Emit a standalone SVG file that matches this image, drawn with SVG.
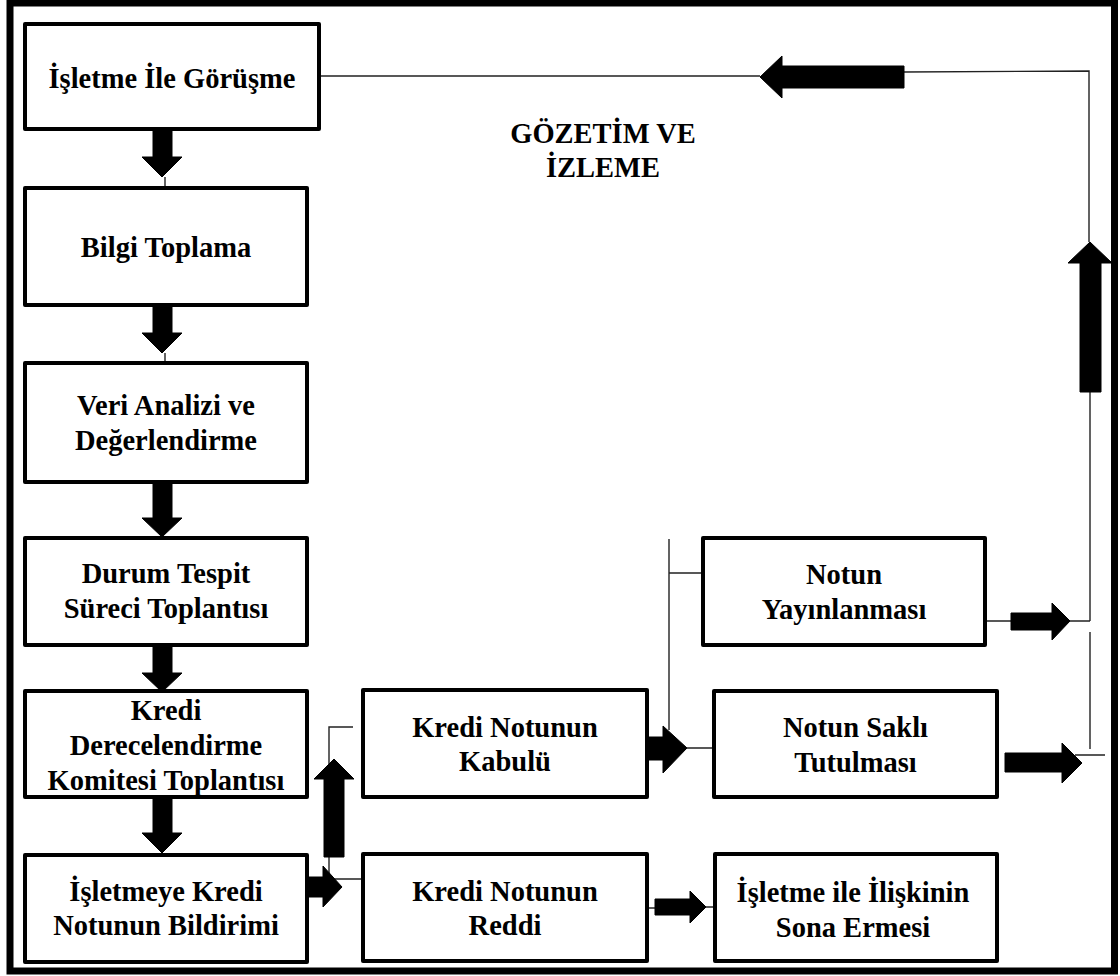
<svg xmlns="http://www.w3.org/2000/svg" width="1120" height="976" viewBox="0 0 1120 976">
<style>
.box{fill:#fff;stroke:#000;stroke-width:4;stroke-linejoin:round}
.t{font-family:"Liberation Serif","Times New Roman",serif;font-weight:bold;font-size:28.5px;fill:#000;text-anchor:middle}
.thin{fill:none;stroke:#222;stroke-width:1.4}
.blk{fill:#000;stroke:#000;stroke-width:1;stroke-linejoin:round}
</style>
<rect width="1120" height="976" fill="#fff"/>
<rect x="10" y="3" width="1104.5" height="968" fill="none" stroke="#000" stroke-width="7"/>

<g id="connectors">
  <path class="thin" d="M165,177V188 M165,353V363 M165,537V538 M165,692V691 M165,853V855"/>
  <polygon class="blk" points="153,130 172,130 172,157 182,157 162,177 142,157 153,157"/>
  <polygon class="blk" points="153,305 172,305 172,333 182,333 162,353 142,333 153,333"/>
  <polygon class="blk" points="153,482 172,482 172,518 182,518 162,537 142,518 153,518"/>
  <polygon class="blk" points="153,645 172,645 172,673 182,673 162,692 142,673 153,673"/>
  <polygon class="blk" points="153,797 172,797 172,833 182,833 162,853 142,833 153,833"/>

  <path class="thin" d="M353,727H329V879H363"/>
  <polygon class="blk" points="324,857 344,857 344,779 354,779 334,759 314,779 324,779"/>
  <polygon class="blk" points="307,877 323,877 323,866 342,887 323,907 323,897 307,897"/>

  <path class="thin" d="M669,539V730 M669,573H703 M687,748H714"/>
  <polygon class="blk" points="645,737 663,737 663,726 687,748 663,773 663,760 645,760"/>

  <path class="thin" d="M647,908H655 M706,907H715"/>
  <polygon class="blk" points="655,899 690,899 690,891 706,907 690,923 690,915 655,915"/>

  <path class="thin" d="M319,76H760 M904,72L1089,71V242 M1090,392V621 M985,621H1011 M1070,621H1090 M1090,632V749 M1075,755H1105"/>
  <polygon class="blk" points="904,66 904,88 782,88 782,98 760,77 782,56 782,66"/>
  <polygon class="blk" points="1080,392 1101,392 1101,263 1112,263 1090,242 1068,263 1080,263"/>
  <polygon class="blk" points="1011,613 1052,613 1052,603 1070,621 1052,640 1052,630 1011,630"/>
  <polygon class="blk" points="1005,753 1062,753 1062,743 1082,763 1062,783 1062,772 1005,772"/>
</g>

<g id="n1"><rect class="box" x="25" y="24" width="294" height="105"/><text class="t" x="172" y="88">İşletme İle Görüşme</text></g>
<g id="n2"><rect class="box" x="25" y="188" width="282" height="117"/><text class="t" x="166" y="257">Bilgi Toplama</text></g>
<g id="n3"><rect class="box" x="25" y="363" width="282" height="119"/><text class="t" x="166" y="415">Veri Analizi ve</text><text class="t" x="166" y="450">Değerlendirme</text></g>
<g id="n4"><rect class="box" x="25" y="538" width="282" height="107"/><text class="t" x="166" y="583">Durum Tespit</text><text class="t" x="166" y="618">Süreci Toplantısı</text></g>
<g id="n5"><rect class="box" x="25" y="691" width="282" height="106"/><text class="t" x="166" y="720">Kredi</text><text class="t" x="166" y="755">Derecelendirme</text><text class="t" x="166" y="790">Komitesi Toplantısı</text></g>
<g id="n6"><rect class="box" x="25" y="855" width="282" height="107"/><text class="t" x="166" y="901">İşletmeye Kredi</text><text class="t" x="166" y="935">Notunun Bildirimi</text></g>
<g id="n7"><rect class="box" x="363" y="690" width="284" height="107"/><text class="t" x="505" y="737">Kredi Notunun</text><text class="t" x="505" y="771">Kabulü</text></g>
<g id="n8"><rect class="box" x="363" y="854" width="284" height="107"/><text class="t" x="505" y="901">Kredi Notunun</text><text class="t" x="505" y="935">Reddi</text></g>
<g id="n9"><rect class="box" x="703" y="538" width="282" height="107"/><text class="t" x="844" y="584">Notun</text><text class="t" x="844" y="619">Yayınlanması</text></g>
<g id="n10"><rect class="box" x="714" y="691" width="283" height="106"/><text class="t" x="855.5" y="737">Notun Saklı</text><text class="t" x="855.5" y="772">Tutulması</text></g>
<g id="n11"><rect class="box" x="715" y="854" width="282" height="107"/><text class="t" x="853" y="902">İşletme ile İlişkinin</text><text class="t" x="853" y="937">Sona Ermesi</text></g>
<g id="label"><text class="t" x="603" y="143">GÖZETİM VE</text><text class="t" x="603" y="177">İZLEME</text></g>
</svg>
